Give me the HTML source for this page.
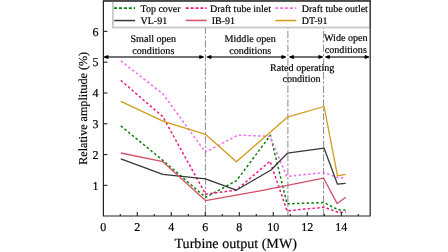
<!DOCTYPE html><html><head><meta charset="utf-8"><style>
html,body{margin:0;padding:0;background:#fff;width:448px;height:252px;overflow:hidden}
svg{display:block;will-change:transform}text{font-family:"Liberation Serif",serif;fill:#000;text-rendering:geometricPrecision}
.t{stroke:#000;stroke-width:0.18px}
</style></head><body>
<svg width="448" height="252" viewBox="0 0 448 252">
<line x1="205.4" y1="26.7" x2="205.4" y2="216" stroke="#8a8a8a" stroke-width="1" stroke-dasharray="7.3 1.9 2.5 2.0" stroke-dashoffset="0"/>
<line x1="287.9" y1="26.7" x2="287.9" y2="216" stroke="#8a8a8a" stroke-width="1" stroke-dasharray="7.3 1.9 2.5 2.0" stroke-dashoffset="9.5"/>
<line x1="323.6" y1="26.7" x2="323.6" y2="216" stroke="#8a8a8a" stroke-width="1" stroke-dasharray="7.3 1.9 2.5 2.0" stroke-dashoffset="9.5"/>
<polyline points="120.8,125.9 162.8,160.3 205.6,197.4 236.6,180.6 270.4,135.3 287.0,203.8 323.9,202.6 337.9,209.6 345.5,210.3" fill="none" stroke="#0b7d0b" stroke-width="1.5" stroke-dasharray="2.5 2.3" stroke-linejoin="round"/>
<polyline points="120.8,80.4 162.8,116.6 205.6,194.2 236.4,190.1 270.0,161.2 287.1,211.0 323.9,207.2 338.3,212.4 345.7,212.2" fill="none" stroke="#ee1580" stroke-width="1.5" stroke-dasharray="2.5 2.3" stroke-linejoin="round"/>
<polyline points="120.8,60.9 162.8,93.8 205.4,152.1 238.0,135.1 270.0,136.4 286.8,176.4 323.9,172.6 337.9,177.8 345.7,177.8" fill="none" stroke="#f06ef0" stroke-width="1.5" stroke-dasharray="2.5 2.3" stroke-linejoin="round"/>
<polyline points="120.8,158.8 162.8,174.4 205.5,178.8 236.2,190.2 271.0,170.0 287.4,153.2 324.0,148.1 337.5,184.2 345.6,183.3" fill="none" stroke="#383838" stroke-width="1.3" stroke-linejoin="round"/>
<polyline points="120.8,153.0 162.8,161.7 205.5,200.6 260.0,190.8 323.6,178.2 337.2,203.6 345.8,197.2" fill="none" stroke="#d4506a" stroke-width="1.3" stroke-linejoin="round"/>
<polyline points="120.8,101.3 163.5,121.4 205.4,134.3 236.4,161.8 287.4,117.2 324.1,106.5 337.5,175.8 345.6,174.3" fill="none" stroke="#d09c18" stroke-width="1.3" stroke-linejoin="round"/>
<line x1="106.9" y1="57.0" x2="200.8" y2="57.0" stroke="#444" stroke-width="1.5"/>
<path d="M103.9,56.45 L108.20,55.10 Q109.20,57.0 108.20,58.90 L103.9,57.55 Z" fill="#000"/>
<path d="M203.8,56.45 L199.50,55.10 Q198.50,57.0 199.50,58.90 L203.8,57.55 Z" fill="#000"/>
<line x1="209.8" y1="57.0" x2="283.0" y2="57.0" stroke="#444" stroke-width="1.5"/>
<path d="M206.8,56.45 L211.10,55.10 Q212.10,57.0 211.10,58.90 L206.8,57.55 Z" fill="#000"/>
<path d="M286.0,56.45 L281.70,55.10 Q280.70,57.0 281.70,58.90 L286.0,57.55 Z" fill="#000"/>
<line x1="292.3" y1="57.0" x2="319.9" y2="57.0" stroke="#444" stroke-width="1.5"/>
<path d="M289.3,56.45 L293.60,55.10 Q294.60,57.0 293.60,58.90 L289.3,57.55 Z" fill="#000"/>
<path d="M322.9,56.45 L318.60,55.10 Q317.60,57.0 318.60,58.90 L322.9,57.55 Z" fill="#000"/>
<line x1="328.2" y1="57.0" x2="366.2" y2="57.0" stroke="#444" stroke-width="1.5"/>
<path d="M325.2,56.45 L329.50,55.10 Q330.50,57.0 329.50,58.90 L325.2,57.55 Z" fill="#000"/>
<path d="M369.2,56.45 L364.90,55.10 Q363.90,57.0 364.90,58.90 L369.2,57.55 Z" fill="#000"/>
<rect x="112.9" y="-3" width="257.3" height="30.5" fill="#fff" stroke="#c8c8c8" stroke-width="1.8"/>
<line x1="114.1" y1="8.1" x2="135.1" y2="8.1" stroke="#0b7d0b" stroke-width="1.7" stroke-dasharray="3 1.9"/>
<text class="t" x="140.5" y="11.7" font-size="10">Top cover</text>
<line x1="185.7" y1="8.2" x2="206.7" y2="8.2" stroke="#ee1580" stroke-width="1.7" stroke-dasharray="3 1.9"/>
<text class="t" x="210.0" y="11.7" font-size="10">Draft tube inlet</text>
<line x1="275.3" y1="8.2" x2="296.3" y2="8.2" stroke="#f06ef0" stroke-width="1.7" stroke-dasharray="3 1.9"/>
<text class="t" x="301.8" y="11.7" font-size="10">Draft tube outlet</text>
<line x1="114.1" y1="20.55" x2="135.1" y2="20.55" stroke="#383838" stroke-width="1.5"/>
<text class="t" x="140.5" y="24.1" font-size="10">VL-91</text>
<line x1="185.7" y1="20.45" x2="206.7" y2="20.45" stroke="#d4506a" stroke-width="1.5"/>
<text class="t" x="211.7" y="24.1" font-size="10">IB-91</text>
<line x1="275.3" y1="20.55" x2="296.3" y2="20.55" stroke="#d09c18" stroke-width="1.5"/>
<text class="t" x="301.8" y="24.1" font-size="10">DT-91</text>
<rect x="102.80000000000001" y="0" width="267.99999999999994" height="1.9" fill="#4a4a4a"/>
<path d="M103.4,0.9 L103.4,216.0 L370.2,216.0 L370.2,0.9" fill="none" stroke="#222" stroke-width="1.2"/>
<line x1="103.4" y1="185.36" x2="107.4" y2="185.36" stroke="#222" stroke-width="1.1"/>
<text class="t" x="98.60000000000001" y="189.56" font-size="12" text-anchor="end">1</text>
<line x1="103.4" y1="154.56" x2="107.4" y2="154.56" stroke="#222" stroke-width="1.1"/>
<text class="t" x="98.60000000000001" y="158.76" font-size="12" text-anchor="end">2</text>
<line x1="103.4" y1="123.76" x2="107.4" y2="123.76" stroke="#222" stroke-width="1.1"/>
<text class="t" x="98.60000000000001" y="127.96" font-size="12" text-anchor="end">3</text>
<line x1="103.4" y1="92.96" x2="107.4" y2="92.96" stroke="#222" stroke-width="1.1"/>
<text class="t" x="98.60000000000001" y="97.16" font-size="12" text-anchor="end">4</text>
<line x1="103.4" y1="62.16" x2="107.4" y2="62.16" stroke="#222" stroke-width="1.1"/>
<text class="t" x="98.60000000000001" y="66.36" font-size="12" text-anchor="end">5</text>
<line x1="103.4" y1="31.36" x2="107.4" y2="31.36" stroke="#222" stroke-width="1.1"/>
<text class="t" x="98.60000000000001" y="35.56" font-size="12" text-anchor="end">6</text>
<text class="t" x="103.30" y="231" font-size="12" text-anchor="middle">0</text>
<line x1="120.30" y1="216.0" x2="120.30" y2="214.0" stroke="#222" stroke-width="1.1"/>
<line x1="137.30" y1="216.0" x2="137.30" y2="212.0" stroke="#222" stroke-width="1.1"/>
<text class="t" x="137.30" y="231" font-size="12" text-anchor="middle">2</text>
<line x1="154.30" y1="216.0" x2="154.30" y2="214.0" stroke="#222" stroke-width="1.1"/>
<line x1="171.30" y1="216.0" x2="171.30" y2="212.0" stroke="#222" stroke-width="1.1"/>
<text class="t" x="171.30" y="231" font-size="12" text-anchor="middle">4</text>
<line x1="188.30" y1="216.0" x2="188.30" y2="214.0" stroke="#222" stroke-width="1.1"/>
<line x1="205.30" y1="216.0" x2="205.30" y2="212.0" stroke="#222" stroke-width="1.1"/>
<text class="t" x="205.30" y="231" font-size="12" text-anchor="middle">6</text>
<line x1="222.30" y1="216.0" x2="222.30" y2="214.0" stroke="#222" stroke-width="1.1"/>
<line x1="239.30" y1="216.0" x2="239.30" y2="212.0" stroke="#222" stroke-width="1.1"/>
<text class="t" x="239.30" y="231" font-size="12" text-anchor="middle">8</text>
<line x1="256.30" y1="216.0" x2="256.30" y2="214.0" stroke="#222" stroke-width="1.1"/>
<line x1="273.30" y1="216.0" x2="273.30" y2="212.0" stroke="#222" stroke-width="1.1"/>
<text class="t" x="273.30" y="231" font-size="12" text-anchor="middle">10</text>
<line x1="290.30" y1="216.0" x2="290.30" y2="214.0" stroke="#222" stroke-width="1.1"/>
<line x1="307.30" y1="216.0" x2="307.30" y2="212.0" stroke="#222" stroke-width="1.1"/>
<text class="t" x="307.30" y="231" font-size="12" text-anchor="middle">12</text>
<line x1="324.30" y1="216.0" x2="324.30" y2="214.0" stroke="#222" stroke-width="1.1"/>
<line x1="341.30" y1="216.0" x2="341.30" y2="212.0" stroke="#222" stroke-width="1.1"/>
<text class="t" x="341.30" y="231" font-size="12" text-anchor="middle">14</text>
<line x1="358.30" y1="216.0" x2="358.30" y2="214.0" stroke="#222" stroke-width="1.1"/>
<text class="t" x="153.3" y="42.2" font-size="10.1" text-anchor="middle">Small open</text>
<text class="t" x="153.3" y="53.7" font-size="10.1" text-anchor="middle">conditions</text>
<text class="t" x="250.2" y="42.4" font-size="10.1" text-anchor="middle">Middle open</text>
<text class="t" x="250.2" y="54.1" font-size="10.1" text-anchor="middle">conditions</text>
<text class="t" x="302.2" y="70.8" font-size="10.1" text-anchor="middle">Rated operating</text>
<text class="t" x="301.5" y="82.1" font-size="10.1" text-anchor="middle">condition</text>
<text class="t" x="345.8" y="41.0" font-size="10.1" text-anchor="middle">Wide open</text>
<text class="t" x="345.8" y="52.8" font-size="10.1" text-anchor="middle">conditions</text>
<text class="t" x="235.7" y="247.5" font-size="14.1" text-anchor="middle">Turbine output (MW)</text>
<text class="t" transform="translate(86.8,108.3) rotate(-90)" x="0" y="0" font-size="12.1" text-anchor="middle">Relative amplitude (%)</text>
</svg></body></html>
